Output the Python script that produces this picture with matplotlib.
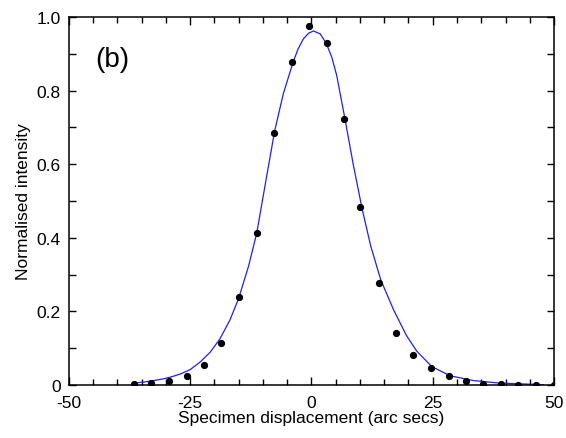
import matplotlib
matplotlib.use("Agg")
import matplotlib.pyplot as plt
from matplotlib.ticker import MultipleLocator

plt.rcParams["font.family"] = ["Liberation Sans", "DejaVu Sans"]
plt.rcParams["axes.unicode_minus"] = False

# measured points (arc secs, normalised intensity)
data_x = [-36.6, -33.0, -29.4, -25.7, -22.2, -18.6, -15.0, -11.3, -7.7, -4.1,
          -0.6, 3.1, 6.6, 10.1, 13.9, 17.5, 21.0, 24.6, 28.3, 31.9,
          35.4, 39.1, 42.6, 46.3, 49.9]
data_y = [0.003, 0.005, 0.012, 0.025, 0.054, 0.114, 0.240, 0.413, 0.686, 0.878,
          0.975, 0.928, 0.723, 0.483, 0.277, 0.140, 0.082, 0.047, 0.025, 0.012,
          0.004, 0.002, 0.001, 0.001, 0.001]

# fitted profile
fit_x = [-36.7, -34.5, -32.6, -30.8, -29.2, -27.0, -25.0, -23.0, -20.9, -18.9,
         -16.8, -15.0, -13.0, -11.3, -9.5, -7.6, -5.8, -3.8, -2.8, -1.7,
         -0.6, 0.4, 1.8, 3.1, 4.2, 5.2, 6.9, 8.6, 10.4, 12.2,
         14.3, 16.9, 19.6, 21.7, 24.8, 28.6, 33.4, 38.9, 47.8]
fit_y = [0.005, 0.008, 0.012, 0.016, 0.021, 0.030, 0.042, 0.062, 0.089, 0.125,
         0.177, 0.236, 0.322, 0.412, 0.548, 0.690, 0.792, 0.877, 0.912, 0.940,
         0.956, 0.962, 0.954, 0.927, 0.890, 0.841, 0.723, 0.600, 0.481, 0.378,
         0.285, 0.205, 0.134, 0.092, 0.050, 0.025, 0.012, 0.005, 0.001]

fig = plt.figure(figsize=(5.66, 4.39), dpi=100)
ax = fig.add_axes([0.1219, 0.1207, 0.9788 - 0.1219, 0.959 - 0.1207])

ax.plot(fit_x, fit_y, color="#1f1fff", lw=0.9, zorder=2)
ax.plot(data_x, data_y, "o", color="black", ms=4.2, zorder=3)

ax.set_xlim(-50, 50)
ax.set_ylim(0, 1.0)

ax.xaxis.set_major_locator(MultipleLocator(25))
ax.xaxis.set_minor_locator(MultipleLocator(5))
ax.yaxis.set_major_locator(MultipleLocator(0.2))
ax.yaxis.set_minor_locator(MultipleLocator(0.1))
ax.set_yticks([0, 0.2, 0.4, 0.6, 0.8, 1.0])
ax.set_yticklabels(["0", "0.2", "0.4", "0.6", "0.8", "1.0"])

ax.tick_params(which="both", direction="in", top=True, right=True,
               labelsize=12.5, width=1.0, colors="black")
ax.tick_params(axis="x", which="major", length=6, pad=7)
ax.tick_params(axis="x", which="minor", length=4)
ax.tick_params(axis="y", which="both", length=5, pad=6)

for s in ax.spines.values():
    s.set_linewidth(1.1)

ax.set_xlabel("Specimen displacement (arc secs)", fontsize=12.5, labelpad=0)
ax.set_ylabel("Normalised intensity", fontsize=12.5, labelpad=4)

ax.text(-44.6, 0.886, "(b)", fontsize=20, va="center", ha="left")

fig.savefig("out.png", dpi=100)
